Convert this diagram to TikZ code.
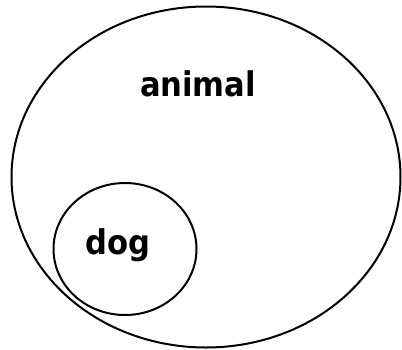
\documentclass[tikz,border=0pt]{standalone}
\usepackage{fontspec}
\setmainfont{DejaVu Sans}
\usetikzlibrary{shapes.geometric}
\begin{document}
\begin{tikzpicture}[x=1pt,y=-1pt,
  setline/.style={draw=black,line width=2pt},
  lbl/.style={font=\bfseries\fontsize{34}{34}\selectfont,inner sep=0pt,xscale=0.9}]
\useasboundingbox (0,0) rectangle (402,349);
\node[setline,ellipse,minimum width=389pt,minimum height=341pt,inner sep=0pt] (animalset) at (206,177) {};
\node[setline,ellipse,minimum width=143pt,minimum height=132pt,inner sep=0pt] (dogset) at (125,249) {};
\node[lbl] (animal) at (198,84) {animal};
\node[lbl] (dog) at (118,245) {dog};
\end{tikzpicture}
\end{document}
